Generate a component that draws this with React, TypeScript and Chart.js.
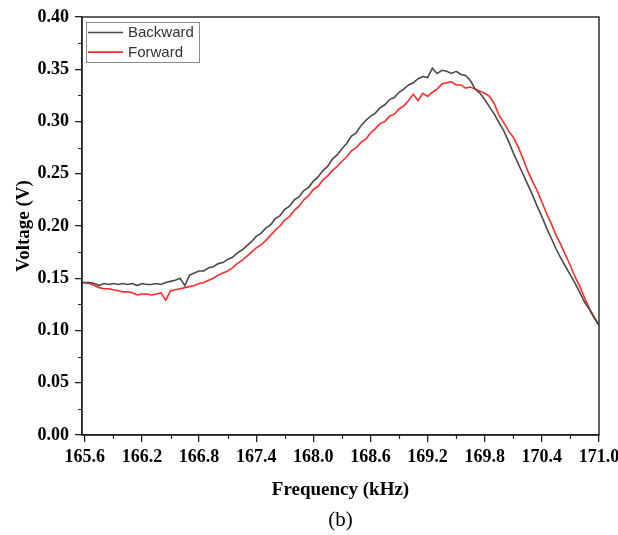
import React, { useEffect, useRef } from 'react';
import { Chart, registerables } from 'chart.js';

Chart.register(...registerables);

const freqs = [
  165.57, 165.65, 165.7, 165.75, 165.8, 165.85, 165.9, 165.95, 166.0, 166.05,
  166.1, 166.15, 166.2, 166.25, 166.3, 166.35, 166.4, 166.45, 166.5, 166.55,
  166.6, 166.65, 166.7, 166.75, 166.8, 166.85, 166.9, 166.95, 167.0, 167.05,
  167.1, 167.15, 167.2, 167.25, 167.3, 167.35, 167.4, 167.45, 167.5, 167.55,
  167.6, 167.65, 167.7, 167.75, 167.8, 167.85, 167.9, 167.95, 168.0, 168.05,
  168.1, 168.15, 168.2, 168.25, 168.3, 168.35, 168.4, 168.45, 168.5, 168.55,
  168.6, 168.65, 168.7, 168.75, 168.8, 168.85, 168.9, 168.95, 169.0, 169.05,
  169.1, 169.15, 169.2, 169.25, 169.3, 169.35, 169.4, 169.45, 169.5, 169.55,
  169.6, 169.65, 169.7, 169.75, 169.8, 169.85, 169.9, 169.95, 170.0, 170.05,
  170.1, 170.15, 170.2, 170.25, 170.3, 170.35, 170.4, 170.45, 170.5, 170.55,
  170.6, 170.65, 170.7, 170.75, 170.8, 170.85, 170.9, 170.95, 171.0,
];

const backward = [
  0.146, 0.146, 0.145, 0.143, 0.145, 0.144, 0.145, 0.144, 0.145, 0.144,
  0.145, 0.143, 0.145, 0.144, 0.144, 0.145, 0.144, 0.146, 0.147, 0.148,
  0.150, 0.143, 0.153, 0.155, 0.157, 0.157, 0.160, 0.161, 0.164, 0.165,
  0.168, 0.170, 0.174, 0.177, 0.181, 0.185, 0.190, 0.193, 0.198, 0.201,
  0.207, 0.210, 0.216, 0.219, 0.225, 0.228, 0.234, 0.237, 0.243, 0.247,
  0.253, 0.257, 0.264, 0.268, 0.274, 0.279, 0.286, 0.289, 0.296, 0.301,
  0.305, 0.308, 0.313, 0.316, 0.321, 0.323, 0.328, 0.331, 0.335, 0.337,
  0.341, 0.343, 0.342, 0.351, 0.346, 0.349, 0.348, 0.346, 0.348, 0.345,
  0.344, 0.339, 0.331, 0.327, 0.321, 0.314, 0.307, 0.299, 0.291, 0.281,
  0.270, 0.260, 0.250, 0.240, 0.230, 0.219, 0.209, 0.198, 0.188, 0.178,
  0.169, 0.161, 0.153, 0.145, 0.136, 0.127, 0.120, 0.112, 0.105,
];

const forward = [
  0.146, 0.145, 0.143, 0.141, 0.140, 0.140, 0.139, 0.138, 0.137, 0.137,
  0.136, 0.134, 0.135, 0.135, 0.134, 0.135, 0.136, 0.129, 0.138, 0.139,
  0.140, 0.141, 0.142, 0.143, 0.145, 0.146, 0.148, 0.150, 0.153, 0.155,
  0.157, 0.160, 0.164, 0.167, 0.171, 0.175, 0.179, 0.182, 0.186, 0.191,
  0.196, 0.200, 0.206, 0.209, 0.215, 0.219, 0.225, 0.229, 0.235, 0.238,
  0.244, 0.248, 0.253, 0.257, 0.262, 0.266, 0.272, 0.275, 0.280, 0.283,
  0.289, 0.293, 0.298, 0.300, 0.305, 0.307, 0.312, 0.315, 0.320, 0.326,
  0.320, 0.327, 0.324, 0.328, 0.331, 0.336, 0.337, 0.338, 0.335, 0.335,
  0.332, 0.333, 0.331, 0.329, 0.327, 0.324, 0.317, 0.306, 0.299, 0.291,
  0.285, 0.276, 0.265, 0.253, 0.243, 0.234, 0.223, 0.212, 0.202, 0.191,
  0.182, 0.172, 0.162, 0.151, 0.142, 0.131, 0.121, 0.113, 0.105,
];

const seriesLabels = ['Backward', 'Forward'];
const seriesColors = ['#4a4a4a', '#ff2b2b'];

const xTicks = [165.6, 166.2, 166.8, 167.4, 168.0, 168.6, 169.2, 169.8, 170.4, 171.0];
const xTickLabels = ['165.6', '166.2', '166.8', '167.4', '168.0', '168.6', '169.2', '169.8', '170.4', '171.0'];
const yTicks = [0, 0.05, 0.1, 0.15, 0.2, 0.25, 0.3, 0.35, 0.4];
const yTickLabels = ['0.00', '0.05', '0.10', '0.15', '0.20', '0.25', '0.30', '0.35', '0.40'];

const xTitle = 'Frequency (kHz)';
const yTitle = 'Voltage (V)';
const caption = '(b)';

const AXIS = '#222222';
const SERIF = '"Liberation Serif", "Times New Roman", serif';
const SANS = '"Liberation Sans", Arial, sans-serif';

const framePlugin = {
  id: 'frame',
  afterDraw(chart: any) {
    const { ctx, chartArea: a, scales } = chart;
    const xs = scales.x;
    const ys = scales.y;
    ctx.save();
    ctx.strokeStyle = AXIS;
    ctx.lineWidth = 1.4;
    ctx.strokeRect(a.left, a.top, a.right - a.left, a.bottom - a.top);

    // minor ticks
    ctx.beginPath();
    for (let i = 0; i < xTicks.length - 1; i++) {
      const px = Math.round(xs.getPixelForValue((xTicks[i] + xTicks[i + 1]) / 2)) + 0.5;
      ctx.moveTo(px, a.bottom);
      ctx.lineTo(px, a.bottom + 4);
    }
    for (let i = 0; i < yTicks.length - 1; i++) {
      const py = Math.round(ys.getPixelForValue((yTicks[i] + yTicks[i + 1]) / 2)) + 0.5;
      ctx.moveTo(a.left, py);
      ctx.lineTo(a.left - 4, py);
    }
    ctx.lineWidth = 1.2;
    ctx.stroke();

    // axis titles and caption
    const cx = (a.left + a.right) / 2;
    const cy = (a.top + a.bottom) / 2;
    ctx.fillStyle = '#000';
    ctx.textAlign = 'center';
    ctx.textBaseline = 'middle';
    ctx.font = `bold 19px ${SERIF}`;
    ctx.fillText(xTitle, cx, a.bottom + 55);
    ctx.save();
    ctx.translate(24, cy);
    ctx.rotate(-Math.PI / 2);
    ctx.fillText(yTitle, 0, 0);
    ctx.restore();
    ctx.font = `21px ${SERIF}`;
    ctx.fillText(caption, cx, a.bottom + 85);

    // legend
    const lx = a.left + 4;
    const ly = a.top + 5;
    const lw = 113;
    const lh = 40;
    ctx.fillStyle = '#fff';
    ctx.fillRect(lx, ly, lw, lh);
    ctx.strokeStyle = '#8a8a8a';
    ctx.lineWidth = 1;
    ctx.strokeRect(lx + 0.5, ly + 0.5, lw, lh);
    ctx.font = `15px ${SANS}`;
    ctx.textAlign = 'left';
    chart.data.datasets.forEach((ds: any, i: number) => {
      const rowY = ly + 10.5 + i * 19.6;
      ctx.strokeStyle = ds.borderColor;
      ctx.lineWidth = 1.6;
      ctx.beginPath();
      ctx.moveTo(lx + 2, rowY);
      ctx.lineTo(lx + 37, rowY);
      ctx.stroke();
      ctx.fillStyle = '#333';
      ctx.fillText(ds.label, lx + 42, rowY + 0.5);
    });
    ctx.restore();
  },
};

export default function App() {
  const ref = useRef<HTMLCanvasElement | null>(null);

  useEffect(() => {
    if (!ref.current) return;
    const chart = new Chart(ref.current, {
      type: 'line',
      data: {
        datasets: [backward, forward].map((vals, si) => ({
          label: seriesLabels[si],
          data: freqs.map((f, i) => ({ x: f, y: vals[i] })),
          borderColor: seriesColors[si],
          backgroundColor: seriesColors[si],
          borderWidth: 1.6,
          pointRadius: 0,
          tension: 0,
          fill: false,
        })),
      },
      options: {
        animation: false,
        responsive: false,
        devicePixelRatio: 1,
        layout: { padding: { left: 0, top: 17, right: 19, bottom: 0 } },
        plugins: {
          legend: { display: false },
          tooltip: { enabled: false },
          title: { display: false },
        },
        scales: {
          x: {
            type: 'linear',
            min: 165.57,
            max: 171.0,
            afterBuildTicks: (scale: any) => {
              scale.ticks = xTicks.map((v) => ({ value: v }));
            },
            afterFit: (scale: any) => {
              scale.height = 100;
              scale.paddingLeft = 0;
              scale.paddingRight = 0;
            },
            ticks: {
              autoSkip: false,
              maxRotation: 0,
              padding: 5,
              color: '#000',
              font: { family: SERIF, size: 18, weight: 'bold' },
              callback: (value: any, index: number) => xTickLabels[index] ?? '',
            },
            grid: {
              display: true,
              drawOnChartArea: false,
              drawTicks: true,
              tickLength: 7,
              color: AXIS,
              lineWidth: 1.3,
            },
            border: { display: true, color: AXIS, width: 1.4 },
          },
          y: {
            type: 'linear',
            min: 0,
            max: 0.4,
            afterBuildTicks: (scale: any) => {
              scale.ticks = yTicks.map((v) => ({ value: v }));
            },
            afterFit: (scale: any) => {
              scale.width = 82;
              scale.paddingTop = 0;
              scale.paddingBottom = 0;
            },
            ticks: {
              autoSkip: false,
              padding: 6,
              color: '#000',
              font: { family: SERIF, size: 18, weight: 'bold' },
              callback: (value: any, index: number) => yTickLabels[index] ?? '',
            },
            grid: {
              display: true,
              drawOnChartArea: false,
              drawTicks: true,
              tickLength: 7,
              color: AXIS,
              lineWidth: 1.3,
            },
            border: { display: true, color: AXIS, width: 1.4 },
          },
        },
      },
      plugins: [framePlugin],
    });
    return () => chart.destroy();
  }, []);

  return (
    <div style={{ position: 'absolute', left: 0, top: 0, width: 618, height: 535, background: '#fff' }}>
      <canvas ref={ref} width={618} height={535} style={{ display: 'block' }} />
    </div>
  );
}
